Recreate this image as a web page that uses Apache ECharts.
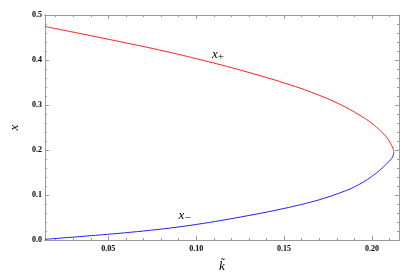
<!DOCTYPE html>
<html>
<head>
<meta charset="utf-8">
<script src="https://cdn.jsdelivr.net/npm/echarts@6/dist/echarts.min.js"></script>
<style>html,body{margin:0;padding:0;background:#fff}#c{width:415px;height:278px}</style>
</head>
<body>
<div id="c"></div>
<script>
// x+ branch (red): k values and x values
const kPlus = [0.0139, 0.035, 0.060, 0.0816, 0.100, 0.120, 0.140, 0.150, 0.163, 0.181, 0.194, 0.200, 0.205, 0.209, 0.2112, 0.2120, 0.21235, 0.2124];
const xPlus = [0.4745, 0.458, 0.438, 0.420, 0.403, 0.383, 0.361, 0.349, 0.332, 0.303, 0.275, 0.259, 0.242, 0.225, 0.210, 0.203, 0.199, 0.195];
// x- branch (blue)
const kMinus = [0.0139, 0.035, 0.055, 0.070, 0.085, 0.100, 0.115, 0.130, 0.145, 0.155, 0.165, 0.175, 0.185, 0.190, 0.196, 0.201, 0.205, 0.2085, 0.2112, 0.2120, 0.21235, 0.2124];
const xMinus = [0.0015, 0.008, 0.0145, 0.020, 0.0265, 0.0345, 0.044, 0.0545, 0.066, 0.0745, 0.084, 0.0955, 0.1095, 0.118, 0.131, 0.1445, 0.157, 0.170, 0.181, 0.187, 0.191, 0.195];
// tick labels
const kMajorTicks = [0.05, 0.10, 0.15, 0.20];
const kMinorTicks = [0.02, 0.03, 0.04, 0.06, 0.07, 0.08, 0.09, 0.11, 0.12, 0.13, 0.14, 0.16, 0.17, 0.18, 0.19, 0.21];
const xTickLabels = ['0.0', '0.1', '0.2', '0.3', '0.4', '0.5'];
// curve labels (data coordinates)
const labelPlus = [0.1124, 0.4127];
const labelMinus = [0.0934, 0.0546];

const kMin = 0.0139, kMax = 0.2154;
const frameColor = '#9a9a9a';
const serif = 'Liberation Serif';

const chart = echarts.init(document.getElementById('c'), null, {renderer: 'canvas'});
const pairs = (ks, xs) => ks.map((k, i) => [k, xs[i]]);

function xAx(pos, ticks, len, showLabel, extra) {
  return Object.assign({
    type: 'value', position: pos, min: kMin, max: kMax,
    axisLine: {show: true, onZero: false, lineStyle: {color: frameColor, width: 1}},
    axisTick: {show: true, inside: true, length: len, customValues: ticks, lineStyle: {color: frameColor}},
    axisLabel: {show: showLabel, customValues: ticks, formatter: v => v.toFixed(2), margin: 5,
      fontFamily: serif, fontSize: 8, fontWeight: 'bold', color: '#000'},
    splitLine: {show: false}
  }, extra || {});
}
function yAx(pos, showLabel, extra) {
  return Object.assign({
    type: 'value', position: pos, min: 0, max: 0.5, interval: 0.1,
    axisLine: {show: true, onZero: false, lineStyle: {color: frameColor, width: 1}},
    axisTick: {show: true, inside: true, length: 4, lineStyle: {color: frameColor}},
    minorTick: {show: true, splitNumber: 5, length: 2, lineStyle: {color: frameColor}},
    axisLabel: {show: showLabel, margin: 3, formatter: v => xTickLabels[Math.round(v * 10)],
      fontFamily: serif, fontSize: 8, fontWeight: 'bold', color: '#000'},
    splitLine: {show: false}
  }, extra || {});
}
function curveLabel(coord, sub) {
  return {symbol: 'circle', symbolSize: 0, silent: true, data: [{coord: coord, label: {show: true, position: 'inside',
    formatter: '{a|x}{b|' + sub + '}',
    rich: {a: {fontFamily: serif, fontStyle: 'italic', fontSize: 13, color: '#000'},
           b: {fontFamily: serif, fontSize: 11, color: '#000', padding: [6, 0, 0, 0]}}}}]};
}

chart.setOption({
  animation: false,
  grid: {left: 29, top: 15, right: 16, bottom: 34, containLabel: false},
  xAxis: [
    xAx('bottom', kMajorTicks, 4, true, {name: 'k\u0303', nameLocation: 'middle', nameGap: 20,
      nameTextStyle: {fontFamily: serif, fontStyle: 'italic', fontSize: 13, color: '#000'}}),
    xAx('bottom', kMinorTicks, 2, false),
    xAx('top', kMajorTicks, 4, false),
    xAx('top', kMinorTicks, 2, false)
  ],
  yAxis: [
    yAx('left', true, {name: 'x', nameLocation: 'middle', nameGap: 22, nameRotate: 90,
      nameTextStyle: {fontFamily: serif, fontStyle: 'italic', fontSize: 13, color: '#000'}}),
    yAx('right', false)
  ],
  series: [
    {type: 'line', xAxisIndex: 0, yAxisIndex: 0, data: pairs(kPlus, xPlus), showSymbol: false, smooth: 0.4,
      lineStyle: {color: '#ff2020', width: 1}, clip: true, markPoint: curveLabel(labelPlus, '+')},
    {type: 'line', xAxisIndex: 0, yAxisIndex: 0, data: pairs(kMinus, xMinus), showSymbol: false, smooth: 0.4,
      lineStyle: {color: '#2020ff', width: 1}, clip: true, markPoint: curveLabel(labelMinus, '\u2212')}
  ]
});
</script>
</body>
</html>
